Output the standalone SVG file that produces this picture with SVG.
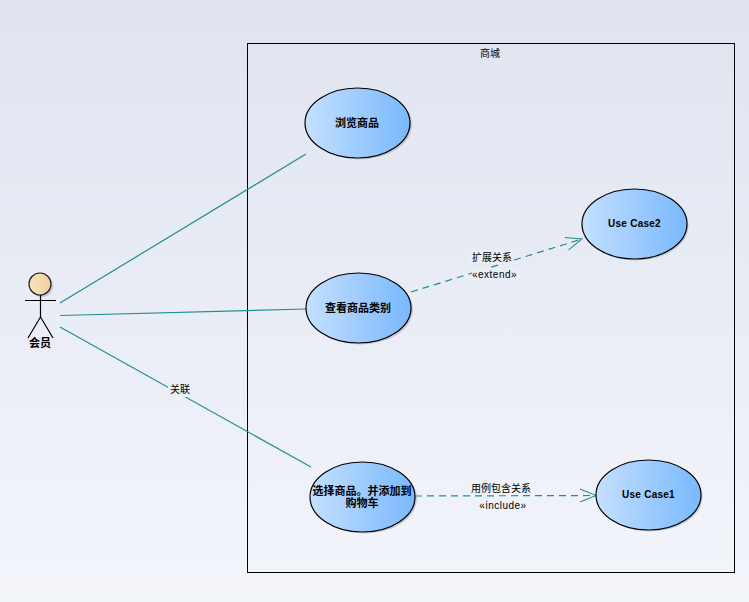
<svg xmlns="http://www.w3.org/2000/svg" width="749" height="602" viewBox="0 0 749 602">
<defs>
<linearGradient id="bg" x1="0" y1="0" x2="0" y2="1"><stop offset="0" stop-color="#dfe4ef"/><stop offset="1" stop-color="#f3f5fb"/></linearGradient>
<linearGradient id="uc" x1="0" y1="0" x2="1" y2="0"><stop offset="0" stop-color="#c4e0ff"/><stop offset="1" stop-color="#7ab8fd"/></linearGradient>
<linearGradient id="head" x1="0" y1="0" x2="1" y2="0"><stop offset="0" stop-color="#fbe3c0"/><stop offset="1" stop-color="#efcf9c"/></linearGradient>
<marker id="open" markerUnits="userSpaceOnUse" markerWidth="20" markerHeight="16" refX="17" refY="8" orient="auto"><path d="M1 1.500L17 8L1 14.500" fill="none" stroke="#1f8f8f" stroke-width="1"/></marker>
</defs>
<style>
text{font-family:"Liberation Sans","Noto Sans CJK SC",sans-serif;font-size:10px;fill:#000;text-anchor:middle}
.b{font-weight:bold;font-size:11px}
.l{font-weight:bold;font-size:10px;letter-spacing:.25px}
.s{letter-spacing:.5px}
.uc{fill:url(#uc);stroke:#000;stroke-width:1.2}
.sh{fill:#a9adb5;opacity:.6}
.a{stroke:#1f8f8f;stroke-width:1.2;fill:none}
.d{stroke:#1f8f8f;stroke-width:1.2;fill:none;stroke-dasharray:7 5;marker-end:url(#open)}
.w{fill:#eaeef7}
</style>
<rect width="749" height="602" fill="url(#bg)"/>
<g id="boundary"><rect x="247.500" y="43.500" width="487" height="529" fill="none" stroke="#000"/><text x="490" y="57">商城</text></g>
<g id="connectors">
<path class="a" d="M60 303L306 154"/>
<path class="a" d="M60 315.500L306 309"/>
<path class="a" d="M60 327L311 467"/>
<path class="d" d="M411 292L582 239"/>
<path class="d" d="M415 496L596 495.500"/>
<rect class="w" x="168" y="383" width="24" height="14"/>
<rect class="w" x="470" y="250" width="44" height="14"/>
<rect class="w" x="472" y="268" width="46" height="14"/>
<text x="180" y="393">关联</text>
<text x="492" y="261">扩展关系</text>
<text class="s" x="494.500" y="278">«extend»</text>
<text x="501" y="492">用例包含关系</text>
<text class="s" x="503" y="509">«include»</text>
</g>
<g id="actor">
<circle cx="42" cy="286" r="11" class="sh"/>
<circle cx="40" cy="284" r="11" fill="url(#head)" stroke="#222" stroke-width="1.200"/>
<path d="M25 300.500H56M40.500 295V317M40.500 317L28 338M40.500 317L53 338" fill="none" stroke="#000" stroke-width="1.200"/>
<text class="b" x="40" y="347">会员</text>
</g>
<g id="uc-browse"><ellipse cx="359.500" cy="124.500" rx="52.500" ry="35" class="sh"/><ellipse cx="357.500" cy="123" rx="52.500" ry="35" class="uc"/><text class="b" x="357" y="126.500">浏览商品</text></g>
<g id="uc-view"><ellipse cx="360.500" cy="309.500" rx="52.500" ry="35" class="sh"/><ellipse cx="358.500" cy="308" rx="52.500" ry="35" class="uc"/><text class="b" x="358" y="311.500">查看商品类别</text></g>
<g id="uc-select"><ellipse cx="364.500" cy="498.500" rx="52.500" ry="35" class="sh"/><ellipse cx="362.500" cy="497" rx="52.500" ry="35" class="uc"/><text class="b" x="362" y="494.500">选择商品。并添加到</text><text class="b" x="362" y="507">购物车</text></g>
<g id="uc-case2"><ellipse cx="636" cy="225.500" rx="52.500" ry="35" class="sh"/><ellipse cx="634.500" cy="224" rx="52.500" ry="35" class="uc"/><text class="l" x="634.500" y="227">Use Case2</text></g>
<g id="uc-case1"><ellipse cx="650" cy="496.500" rx="52.500" ry="35" class="sh"/><ellipse cx="648.500" cy="495" rx="52.500" ry="35" class="uc"/><text class="l" x="648.500" y="498">Use Case1</text></g>
</svg>
